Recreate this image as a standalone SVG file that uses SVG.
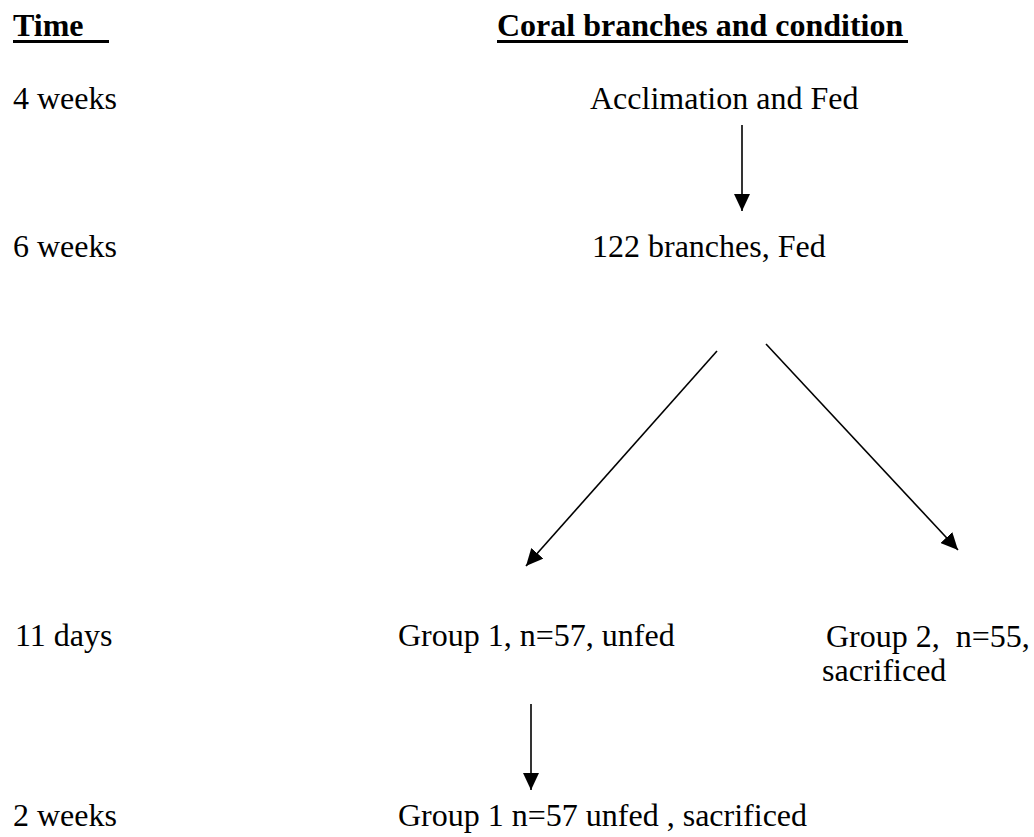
<svg xmlns="http://www.w3.org/2000/svg" width="1034" height="837" viewBox="0 0 1034 837">
<style>
text{font-family:"Liberation Serif","Times New Roman",serif;font-size:32px;fill:#000}
.h{font-weight:bold}
.c{stroke:#000;stroke-width:1.6;fill:none}
</style>
<defs>
<marker id="ah" markerUnits="userSpaceOnUse" markerWidth="18" markerHeight="16" refX="17" refY="8" orient="auto">
<path d="M0,0 L17,8 L0,16 z" fill="#000"/>
</marker>
</defs>
<rect width="1034" height="837" fill="#fff"/>
<g id="header-time">
<text class="h" x="13" y="36">Time</text>
<rect x="13" y="40" width="96" height="3" fill="#000"/>
</g>
<g id="header-coral">
<text class="h" x="497" y="36">Coral branches and condition</text>
<rect x="497" y="40" width="411" height="3" fill="#000"/>
</g>
<g id="t1"><text x="13" y="109">4 weeks</text></g>
<g id="t2"><text x="13" y="257">6 weeks</text></g>
<g id="t3"><text x="15" y="646">11 days</text></g>
<g id="t4"><text x="13" y="826">2 weeks</text></g>
<g id="n1"><text x="590" y="109">Acclimation and Fed</text></g>
<g id="n2"><text x="592" y="257">122 branches, Fed</text></g>
<g id="n3"><text x="398" y="646">Group 1, n=57, unfed</text></g>
<g id="n4"><text x="826" y="647" xml:space="preserve">Group 2,  n=55,</text><text x="822" y="681">sacrificed</text></g>
<g id="n5"><text x="398" y="826">Group 1 n=57 unfed , sacrificed</text></g>
<g id="connectors">
<line class="c" x1="742" y1="125" x2="742" y2="211" marker-end="url(#ah)"/>
<line class="c" x1="717" y1="351" x2="526" y2="566" marker-end="url(#ah)"/>
<line class="c" x1="766" y1="344" x2="958" y2="550" marker-end="url(#ah)"/>
<line class="c" x1="531" y1="704" x2="531" y2="790" marker-end="url(#ah)"/>
</g>
</svg>
